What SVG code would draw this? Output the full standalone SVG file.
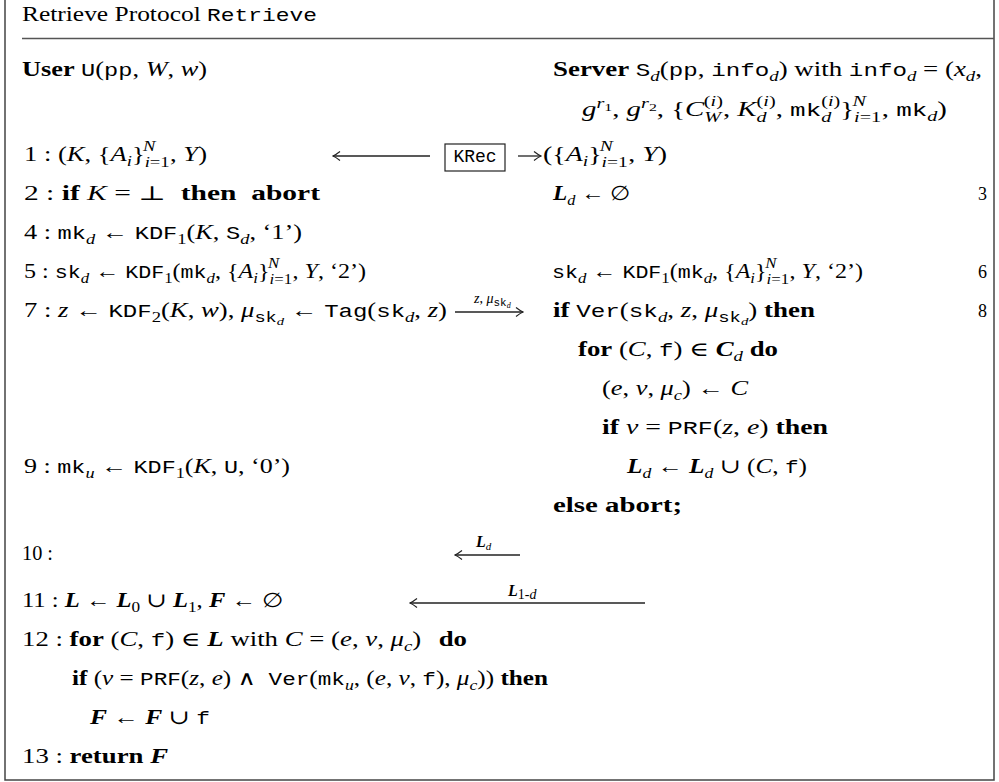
<svg xmlns="http://www.w3.org/2000/svg" width="999" height="782" viewBox="0 0 999 782">
<style>
text{font-family:"Liberation Serif","DejaVu Serif",serif;font-size:20px;fill:#000}
.b{font-weight:bold}
.i{font-style:italic}
.bi{font-weight:bold;font-style:italic}
.m{font-family:"Liberation Mono","DejaVu Sans Mono",monospace;font-size:18px}
.s{font-size:14px}
.ss{font-size:11px}
.lbl{font-size:16px}
.num{font-size:18px}
.frame{fill:none;stroke:#444;stroke-width:1.5}
.sep{stroke:#555;stroke-width:1.5}
.arr{stroke:#222;stroke-width:1.3;fill:none}
</style>
<defs>
<marker id="ah" viewBox="-10 -6 11 12" refX="0" refY="0" markerWidth="11" markerHeight="12" markerUnits="userSpaceOnUse" orient="auto-start-reverse">
<path d="M-7,-4.5 Q-2.5,-1 0,0 Q-2.5,1 -7,4.5" fill="none" stroke="#222" stroke-width="1.2"/>
</marker>
</defs>
<rect class="frame" x="5" y="-5" width="989" height="785"/>
<g id="title">
<text x="22" y="21" textLength="295" lengthAdjust="spacingAndGlyphs">Retrieve Protocol <tspan class="m">Retrieve</tspan></text>
<line class="sep" x1="22" y1="38.5" x2="994" y2="38.5"/>
</g>
<g id="user">
<text x="22" y="76" textLength="185" lengthAdjust="spacingAndGlyphs"><tspan class="b">User</tspan> <tspan class="m">U</tspan>(<tspan class="m">pp</tspan>, <tspan class="i">W</tspan>, <tspan class="i">w</tspan>)</text>
<text x="24" y="161" textLength="183" lengthAdjust="spacingAndGlyphs">1 : (<tspan class="i">K</tspan>, {<tspan class="i">A</tspan><tspan class="i s" dy="5">i</tspan><tspan dy="-5">}</tspan><tspan class="s" dy="6"><tspan class="i">i</tspan>=1</tspan><tspan class="i s" dx="-20" dy="-16">N</tspan><tspan dx="11" dy="10">, </tspan><tspan class="i">Y</tspan>)</text>
<text x="24" y="200" textLength="296" lengthAdjust="spacingAndGlyphs">2 : <tspan class="b">if</tspan> <tspan class="i">K</tspan> = ⊥ <tspan class="b" dx="5">then</tspan> <tspan class="b" dx="5">abort</tspan></text>
<text x="24" y="239" textLength="278" lengthAdjust="spacingAndGlyphs">4 : <tspan class="m">mk</tspan><tspan class="i s" dy="5">d</tspan><tspan dy="-5"> ← </tspan><tspan class="m">KDF</tspan><tspan class="s" dy="5">1</tspan><tspan dy="-5">(</tspan><tspan class="i">K</tspan>, <tspan class="m">S</tspan><tspan class="i s" dy="5">d</tspan><tspan dy="-5">, ‘1’)</tspan></text>
<text x="24" y="278" textLength="342" lengthAdjust="spacingAndGlyphs">5 : <tspan class="m">sk</tspan><tspan class="i s" dy="5">d</tspan><tspan dy="-5"> ← </tspan><tspan class="m">KDF</tspan><tspan class="s" dy="5">1</tspan><tspan dy="-5">(</tspan><tspan class="m">mk</tspan><tspan class="i s" dy="5">d</tspan><tspan dy="-5">, {</tspan><tspan class="i">A</tspan><tspan class="i s" dy="5">i</tspan><tspan dy="-5">}</tspan><tspan class="s" dy="6"><tspan class="i">i</tspan>=1</tspan><tspan class="i s" dx="-20" dy="-16">N</tspan><tspan dx="11" dy="10">, </tspan><tspan class="i">Y</tspan>, ‘2’)</text>
<text x="24" y="317" textLength="423" lengthAdjust="spacingAndGlyphs">7 : <tspan class="i">z</tspan> ← <tspan class="m">KDF</tspan><tspan class="s" dy="5">2</tspan><tspan dy="-5">(</tspan><tspan class="i">K</tspan>, <tspan class="i">w</tspan>), <tspan class="i">μ</tspan><tspan class="m s" dy="5">sk</tspan><tspan class="i ss" dy="3">d</tspan><tspan dy="-8"> ← </tspan><tspan class="m">Tag</tspan>(<tspan class="m">sk</tspan><tspan class="i s" dy="5">d</tspan><tspan dy="-5">, </tspan><tspan class="i">z</tspan>)</text>
<text x="24" y="473" textLength="266" lengthAdjust="spacingAndGlyphs">9 : <tspan class="m">mk</tspan><tspan class="i s" dy="5">u</tspan><tspan dy="-5"> ← </tspan><tspan class="m">KDF</tspan><tspan class="s" dy="5">1</tspan><tspan dy="-5">(</tspan><tspan class="i">K</tspan>, <tspan class="m">U</tspan>, ‘0’)</text>
<text x="22" y="560" textLength="31" lengthAdjust="spacingAndGlyphs">10 :</text>
<text x="22" y="607" textLength="261" lengthAdjust="spacingAndGlyphs">11 : <tspan class="bi">L</tspan> ← <tspan class="bi">L</tspan><tspan class="s" dy="5">0</tspan><tspan dy="-5"> ∪ </tspan><tspan class="bi">L</tspan><tspan class="s" dy="5">1</tspan><tspan dy="-5">, </tspan><tspan class="bi">F</tspan> ← ∅</text>
<text x="22" y="646" textLength="445" lengthAdjust="spacingAndGlyphs">12 : <tspan class="b">for</tspan> (<tspan class="i">C</tspan>, <tspan class="m">f</tspan>) ∈ <tspan class="bi">L</tspan> with <tspan class="i">C</tspan> = (<tspan class="i">e</tspan>, <tspan class="i">v</tspan>, <tspan class="i">μ</tspan><tspan class="i s" dy="5">c</tspan><tspan dy="-5">)</tspan> <tspan class="b" dx="8">do</tspan></text>
<text x="72" y="685" textLength="476" lengthAdjust="spacingAndGlyphs"><tspan class="b">if</tspan> (<tspan class="i">v</tspan> = <tspan class="m">PRF</tspan>(<tspan class="i">z</tspan>, <tspan class="i">e</tspan>) ∧ <tspan class="m" dx="5">Ver</tspan>(<tspan class="m">mk</tspan><tspan class="i s" dy="5">u</tspan><tspan dy="-5">, (</tspan><tspan class="i">e</tspan>, <tspan class="i">v</tspan>, <tspan class="m">f</tspan>), <tspan class="i">μ</tspan><tspan class="i s" dy="5">c</tspan><tspan dy="-5">)) </tspan><tspan class="b">then</tspan></text>
<text x="90" y="724" textLength="120" lengthAdjust="spacingAndGlyphs"><tspan class="bi">F</tspan> ← <tspan class="bi">F</tspan> ∪ <tspan class="m">f</tspan></text>
<text x="22" y="763" textLength="146" lengthAdjust="spacingAndGlyphs">13 : <tspan class="b">return</tspan> <tspan class="bi">F</tspan></text>
</g>
<g id="server">
<text x="553" y="76" textLength="429" lengthAdjust="spacingAndGlyphs"><tspan class="b">Server</tspan> <tspan class="m">S</tspan><tspan class="i s" dy="5">d</tspan><tspan dy="-5">(</tspan><tspan class="m">pp</tspan>, <tspan class="m">info</tspan><tspan class="i s" dy="5">d</tspan><tspan dy="-5">) with </tspan><tspan class="m">info</tspan><tspan class="i s" dy="5">d</tspan><tspan dy="-5"> = (</tspan><tspan class="i">x</tspan><tspan class="i s" dy="5">d</tspan><tspan dy="-5">,</tspan></text>
<text x="582" y="116" textLength="365" lengthAdjust="spacingAndGlyphs"><tspan class="i">g</tspan><tspan class="i s" dy="-8">r</tspan><tspan class="ss" dy="3">1</tspan><tspan dy="5">, </tspan><tspan class="i">g</tspan><tspan class="i s" dy="-8">r</tspan><tspan class="ss" dy="3">2</tspan><tspan dy="5">, {</tspan><tspan class="i">C</tspan><tspan class="i s" dy="6">W</tspan><tspan class="s" dx="-12" dy="-16">(<tspan class="i">i</tspan>)</tspan><tspan dy="10">, </tspan><tspan class="i">K</tspan><tspan class="i s" dy="6">d</tspan><tspan class="s" dx="-7" dy="-16">(<tspan class="i">i</tspan>)</tspan><tspan dy="10">, </tspan><tspan class="m">mk</tspan><tspan class="i s" dy="6">d</tspan><tspan class="s" dx="-7" dy="-16">(<tspan class="i">i</tspan>)</tspan><tspan dy="10">}</tspan><tspan class="s" dy="6"><tspan class="i">i</tspan>=1</tspan><tspan class="i s" dx="-20" dy="-16">N</tspan><tspan dx="11" dy="10">, </tspan><tspan class="m">mk</tspan><tspan class="i s" dy="5">d</tspan><tspan dy="-5">)</tspan></text>
<g id="krec">
<rect x="445" y="144" width="60" height="27" fill="none" stroke="#222" stroke-width="1.2"/>
<text class="m" x="475" y="162" text-anchor="middle">KRec</text>
</g>
<text x="543" y="161" textLength="124" lengthAdjust="spacingAndGlyphs">({<tspan class="i">A</tspan><tspan class="i s" dy="5">i</tspan><tspan dy="-5">}</tspan><tspan class="s" dy="6"><tspan class="i">i</tspan>=1</tspan><tspan class="i s" dx="-20" dy="-16">N</tspan><tspan dx="11" dy="10">, </tspan><tspan class="i">Y</tspan>)</text>
<text x="553" y="200" textLength="77" lengthAdjust="spacingAndGlyphs"><tspan class="bi">L</tspan><tspan class="i s" dy="5">d</tspan><tspan dy="-5"> ← ∅</tspan></text>
<text x="552" y="278" textLength="311" lengthAdjust="spacingAndGlyphs"><tspan class="m">sk</tspan><tspan class="i s" dy="5">d</tspan><tspan dy="-5"> ← </tspan><tspan class="m">KDF</tspan><tspan class="s" dy="5">1</tspan><tspan dy="-5">(</tspan><tspan class="m">mk</tspan><tspan class="i s" dy="5">d</tspan><tspan dy="-5">, {</tspan><tspan class="i">A</tspan><tspan class="i s" dy="5">i</tspan><tspan dy="-5">}</tspan><tspan class="s" dy="6"><tspan class="i">i</tspan>=1</tspan><tspan class="i s" dx="-20" dy="-16">N</tspan><tspan dx="11" dy="10">, </tspan><tspan class="i">Y</tspan>, ‘2’)</text>
<text x="553" y="317" textLength="262" lengthAdjust="spacingAndGlyphs"><tspan class="b">if</tspan> <tspan class="m">Ver</tspan>(<tspan class="m">sk</tspan><tspan class="i s" dy="5">d</tspan><tspan dy="-5">, </tspan><tspan class="i">z</tspan>, <tspan class="i">μ</tspan><tspan class="m s" dy="5">sk</tspan><tspan class="i ss" dy="3">d</tspan><tspan dy="-8">) </tspan><tspan class="b">then</tspan></text>
<text x="578" y="356" textLength="200" lengthAdjust="spacingAndGlyphs"><tspan class="b">for</tspan> (<tspan class="i">C</tspan>, <tspan class="m">f</tspan>) ∈ <tspan class="bi">C</tspan><tspan class="i s" dy="5">d</tspan><tspan class="b" dy="-5"> do</tspan></text>
<text x="602" y="395" textLength="146" lengthAdjust="spacingAndGlyphs">(<tspan class="i">e</tspan>, <tspan class="i">v</tspan>, <tspan class="i">μ</tspan><tspan class="i s" dy="5">c</tspan><tspan dy="-5">) ← </tspan><tspan class="i">C</tspan></text>
<text x="602" y="434" textLength="226" lengthAdjust="spacingAndGlyphs"><tspan class="b">if</tspan> <tspan class="i">v</tspan> = <tspan class="m">PRF</tspan>(<tspan class="i">z</tspan>, <tspan class="i">e</tspan>) <tspan class="b">then</tspan></text>
<text x="627" y="473" textLength="180" lengthAdjust="spacingAndGlyphs"><tspan class="bi">L</tspan><tspan class="i s" dy="5">d</tspan><tspan dy="-5"> ← </tspan><tspan class="bi">L</tspan><tspan class="i s" dy="5">d</tspan><tspan dy="-5"> ∪ (</tspan><tspan class="i">C</tspan>, <tspan class="m">f</tspan>)</text>
<text class="b" x="553" y="512" textLength="129" lengthAdjust="spacingAndGlyphs">else abort;</text>
<text class="num" x="978" y="200">3</text>
<text class="num" x="978" y="278">6</text>
<text class="num" x="978" y="317">8</text>
</g>
<g id="connectors">
<line class="arr" x1="333" y1="156" x2="430" y2="156" marker-start="url(#ah)"/>
<line class="arr" x1="518" y1="156" x2="541" y2="156" marker-end="url(#ah)"/>
<line class="arr" x1="455" y1="312" x2="523" y2="312" marker-end="url(#ah)"/>
<text x="474" y="303" style="font-size:14px"><tspan class="i">z</tspan>, <tspan class="i">μ</tspan><tspan class="m ss" dy="3">sk</tspan><tspan class="i" style="font-size:8px" dy="2">d</tspan></text>
<line class="arr" x1="455" y1="555" x2="520" y2="555" marker-start="url(#ah)"/>
<text class="lbl" x="476" y="547"><tspan class="bi">L</tspan><tspan class="i ss" dy="3">d</tspan></text>
<line class="arr" x1="410" y1="603" x2="645" y2="603" marker-start="url(#ah)"/>
<text class="lbl" x="508" y="596"><tspan class="bi">L</tspan><tspan class="s" dy="3">1-<tspan class="i">d</tspan></tspan></text>
</g>
</svg>
